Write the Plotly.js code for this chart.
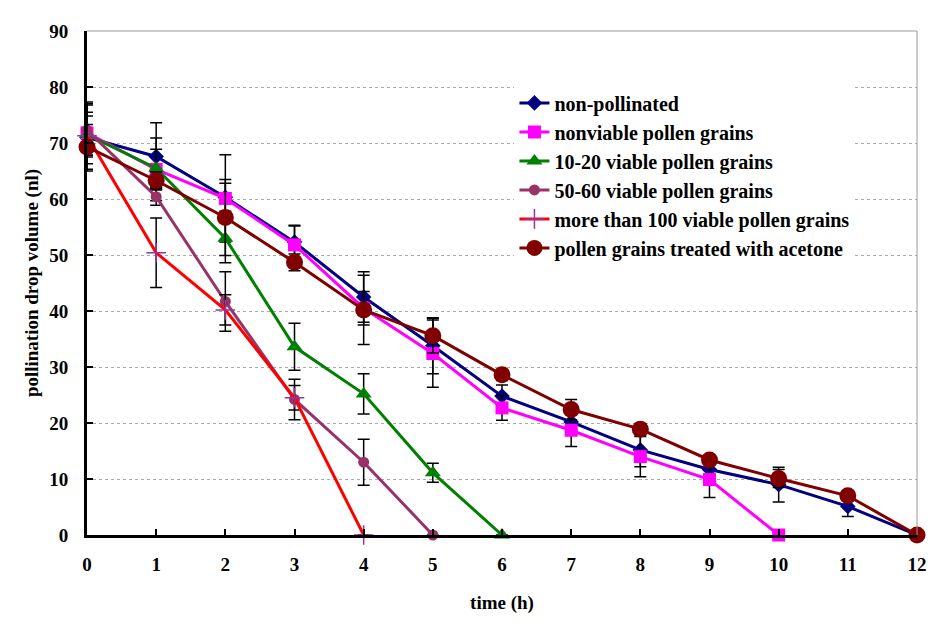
<!DOCTYPE html>
<html>
<head>
<meta charset="utf-8">
<script src="https://cdn.plot.ly/plotly-3.0.1.min.js"></script>
<style>
  html, body { margin: 0; padding: 0; background: #fff; }
  #chart { width: 945px; height: 631px; }
</style>
</head>
<body>
<div id="chart"></div>
<script>
const hours = [0, 1, 2, 3, 4, 5, 6, 7, 8, 9, 10, 11, 12];

const seriesNames = [
  "non-pollinated",
  "nonviable pollen grains",
  "10-20 viable pollen grains",
  "50-60 viable pollen grains",
  "more than 100 viable pollen grains",
  "pollen grains treated with acetone",
];

const nonPollinated = [71, 67.6, 60.3, 52.3, 42.5, 33.8, 24.8, 20.2, 15.2, 11.7, 9.0, 5.1, 0];
const nonPollinatedErr = [6.0, 6.0, 2.5, 3.0, 4.5, 5.0, 2.0, 1.5, 3.0, 1.5, 3.1, 1.8, 0];

const nonviable = [71.8, 65.3, 60.1, 51.8, 40.5, 32.4, 22.7, 18.7, 14.0, 9.9, 0];
const nonviableErr = [5.5, 5.6, 7.8, 3.4, 3.0, 6.0, 2.2, 2.9, 3.6, 3.2, 0];

const viable10to20 = [71.5, 65.5, 53.0, 33.6, 25.2, 11.1, 0];
const viable10to20Err = [4.0, 3.4, 4.4, 4.2, 3.6, 1.7, 0];

const viable50to60 = [72.3, 60.4, 41.7, 24.2, 13.0, 0];
const viable50to60Err = [4.5, 1.5, 5.3, 3.6, 4.1, 0];

const viable100plus = [71.3, 50.4, 40.2, 24.5, 0];
const viable100plusErr = [3.5, 6.2, 2.7, 2.2, 0];

const acetone = [69.3, 63.3, 56.7, 48.7, 40.2, 35.6, 28.6, 22.4, 18.9, 13.4, 10.1, 7.0, 0];
const acetoneErr = [4.0, 1.5, 6.8, 1.5, 6.2, 3.1, 1.0, 1.8, 1.0, 0.5, 1.6, 0.5, 0];

const yTicks = [0, 10, 20, 30, 40, 50, 60, 70, 80, 90];

const font = "Liberation Serif, Times New Roman, serif";

function series(name, y, err, color, symbol, size, markerLine) {
  return {
    x: hours.slice(0, y.length),
    y: y,
    name: name,
    legendgroup: name,
    type: "scatter",
    mode: "lines+markers",
    cliponaxis: false,
    line: { color: color, width: 3 },
    marker: { color: color, symbol: symbol, size: size, line: markerLine || { width: 0 } },
    error_y: { type: "data", array: err, visible: true, color: "#000", thickness: 1.5, width: 6 },
  };
}

const traces = [
  series(seriesNames[0], nonPollinated, nonPollinatedErr, "#000080", "diamond", 12),
  series(seriesNames[1], nonviable, nonviableErr, "#ff00ff", "square", 13),
  series(seriesNames[2], viable10to20, viable10to20Err, "#008000", "triangle-up", 14),
  series(seriesNames[3], viable50to60, viable50to60Err, "#993366", "circle", 11),
  series(seriesNames[4], viable100plus, viable100plusErr, "#ff0000", "cross-thin", 14, { color: "#993399", width: 1.5 }),
  series(seriesNames[5], acetone, acetoneErr, "#800000", "circle", 17),
];

const layout = {
  width: 945,
  height: 631,
  paper_bgcolor: "#fff",
  plot_bgcolor: "#fff",
  font: { family: font, color: "#000", size: 18 },
  margin: { l: 87, r: 28, t: 31, b: 96 },
  showlegend: true,
  legend: {
    x: 0.515,
    y: 0.896,
    xanchor: "left",
    yanchor: "top",
    bgcolor: "#fff",
    font: { family: font, size: 20, color: "#000", weight: "bold" },
    traceorder: "grouped",
    tracegroupgap: 0,
  },
  xaxis: {
    range: [0, 12],
    tickvals: hours,
    ticks: "inside",
    ticklen: 6,
    tickwidth: 2,
    tickcolor: "#000",
    ticklabelstandoff: 10,
    showgrid: false,
    zeroline: false,
    showline: true,
    linecolor: "#000",
    linewidth: 3,
    tickfont: { family: font, size: 19, weight: "bold" },
    title: { text: "time (h)", font: { family: font, size: 19, weight: "bold" }, standoff: 22 },
  },
  yaxis: {
    range: [0, 90],
    tickvals: yTicks,
    ticks: "inside",
    ticklen: 6,
    tickwidth: 2,
    tickcolor: "#000",
    ticklabelstandoff: 12,
    showgrid: true,
    gridcolor: "#aaa",
    griddash: "dot",
    gridwidth: 1,
    zeroline: false,
    showline: true,
    linecolor: "#000",
    linewidth: 3,
    tickfont: { family: font, size: 19, weight: "bold" },
    title: { text: "pollination drop volume (nl)", font: { family: font, size: 19, weight: "bold" }, standoff: 6 },
  },
  shapes: [
    { type: "line", xref: "paper", yref: "paper", x0: 0, x1: 1, y0: 1, y1: 1, line: { color: "#999", width: 1 } },
    { type: "line", xref: "paper", yref: "paper", x0: 1, x1: 1, y0: 0, y1: 1, line: { color: "#999", width: 1 } },
  ],
};

Plotly.newPlot("chart", traces, layout, { displayModeBar: false, responsive: false });
</script>
</body>
</html>
